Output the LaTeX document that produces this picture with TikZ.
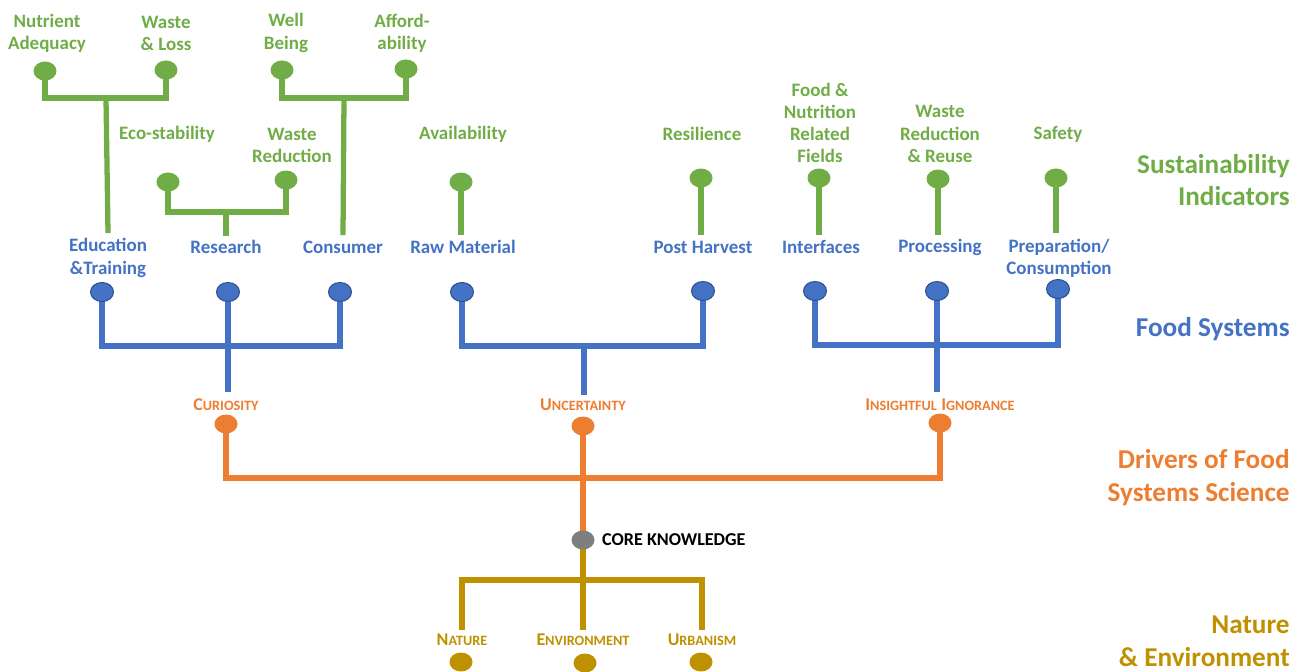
\documentclass[tikz,border=0pt]{standalone}
\usepackage{fontspec}
\setmainfont{Carlito}
\usetikzlibrary{shapes.geometric,positioning,backgrounds}

\definecolor{sgreen}{HTML}{70AD47}
\definecolor{sblue}{HTML}{4472C4}
\definecolor{sblueedge}{HTML}{2F528F}
\definecolor{sorange}{HTML}{ED7D31}
\definecolor{sgold}{HTML}{BF9000}
\definecolor{sgray}{HTML}{7F7F7F}

\newcommand{\fsc}[2]{{\fontsize{10.2}{11}\selectfont #1}{\fontsize{8.1}{9}\selectfont #2}}

\tikzset{
    dot/.style={ellipse, inner sep=0pt, minimum width=0.46cm, minimum height=0.38cm},
    gdot/.style={dot, fill=sgreen},
    bdot/.style={dot, fill=sblue, draw=sblueedge, line width=0.6pt},
    odot/.style={dot, fill=sorange},
    ydot/.style={dot, fill=sgold},
    kdot/.style={dot, fill=sgray},
    lbl/.style={font=\bfseries\fontsize{10.8}{12.6}\selectfont, align=center, inner sep=0pt},
    glbl/.style={lbl, text=sgreen},
    blbl/.style={lbl, text=sblue},
    olbl/.style={lbl, text=sorange},
    ylbl/.style={lbl, text=sgold},
    tier/.style={font=\bfseries\fontsize{15.5}{18.7}\selectfont, align=right, anchor=east, inner sep=0pt},
    branch/.style={line width=3pt, line join=miter},
}

\begin{document}
\begin{tikzpicture}[x=0.02cm, y=-0.02cm]
        \useasboundingbox (0,0) rectangle (1302,672);

        % tier titles
        \node[tier, text=sgreen] (sustier) at (1290,180) {Sustainability\\Indicators};
        \node[tier, text=sblue] (fstier) at (1290,329) {Food Systems};
        \node[tier, text=sorange] (drvtier) at (1290,478) {Drivers of Food\\Systems Science};
        \node[tier, text=sgold] (natier) at (1290,641) {Nature\\\& Environment};

        % sustainability indicators
        \node[glbl] (nuttxt) at (47,33) {Nutrient\\Adequacy};
        \node[glbl] (wsttxt) at (166,33) {Waste\\\& Loss};
        \node[glbl] (welltxt) at (286,33) {Well\\Being};
        \node[glbl] (afftxt) at (402,33) {Afford-\\ability};
        \node[glbl] (ecotxt) at (167,134) {Eco-stability};
        \node[glbl] (wredtxt) at (292,145) {Waste\\Reduction};
        \node[glbl] (avatxt) at (463,134) {Availability};
        \node[glbl] (restxt) at (702,134) {Resilience};
        \node[glbl] (fnrtxt) at (820,123) {Food \&\\Nutrition\\Related\\Fields};
        \node[glbl] (wrrtxt) at (940,134) {Waste\\Reduction\\\& Reuse};
        \node[glbl] (saftxt) at (1058,134) {Safety};

        \node[gdot] (nutd) at (45,71) {};
        \node[gdot] (wstd) at (166,70) {};
        \node[gdot] (welld) at (282,70) {};
        \node[gdot] (affd) at (406,69) {};
        \node[gdot] (ecod) at (168,182) {};
        \node[gdot] (wredd) at (286,180) {};
        \node[gdot] (avad) at (461,182) {};
        \node[gdot] (resid) at (701,178) {};
        \node[gdot] (fnrd) at (819,178) {};
        \node[gdot] (wrrd) at (938,179) {};
        \node[gdot] (safd) at (1056,178) {};

        % food systems
        \node[blbl] (edu) at (108,258) {Education\\\&Training};
        \node[blbl] (res) at (226,247) {Research};
        \node[blbl] (con) at (343,247) {Consumer};
        \node[blbl] (raw) at (463,247) {Raw Material};
        \node[blbl] (post) at (703,247) {Post Harvest};
        \node[blbl] (intf) at (821,247) {Interfaces};
        \node[blbl] (proc) at (940,247) {Processing};
        \node[blbl] (prep) at (1059,258) {Preparation/\\Consumption};

        \node[bdot] (edud) at (102,292) {};
        \node[bdot] (resd) at (228,292) {};
        \node[bdot] (cond) at (340,292) {};
        \node[bdot] (rawd) at (462,292) {};
        \node[bdot] (postd) at (703,291) {};
        \node[bdot] (intd) at (815,291) {};
        \node[bdot] (procd) at (937,291) {};
        \node[bdot] (prepd) at (1058,289) {};

        % drivers
        \node[olbl] (cur) at (226,405) {\fsc{C}{URIOSITY}};
        \node[olbl] (unc) at (583,405) {\fsc{U}{NCERTAINTY}};
        \node[olbl] (ign) at (940,405) {\fsc{I}{NSIGHTFUL} \fsc{I}{GNORANCE}};

        \node[odot] (curd) at (226,424) {};
        \node[odot] (uncd) at (583,426) {};
        \node[odot] (ignd) at (940,423) {};

        % core knowledge
        \node[kdot] (cored) at (583,540) {};
        \node[right=4pt of cored, inner sep=0pt, font=\bfseries\fontsize{10.3}{12}\selectfont] (coretxt) {CORE KNOWLEDGE};

        % nature & environment
        \node[ylbl] (nat) at (462,640) {\fsc{N}{ATURE}};
        \node[ylbl] (env) at (583,640) {\fsc{E}{NVIRONMENT}};
        \node[ylbl] (urb) at (702,640) {\fsc{U}{RBANISM}};

        \node[ydot] (natd) at (461,662) {};
        \node[ydot] (envd) at (585,663) {};
        \node[ydot] (urbd) at (701,662) {};

        % bars
        \coordinate (edubar) at (106,98);
        \coordinate (conbar) at (344,98);
        \coordinate (resbar) at (226,212);
        \coordinate (fsbar1) at (228,346);
        \coordinate (fsbar2) at (584,346);
        \coordinate (fsbar3) at (940,345);
        \coordinate (drvbar) at (583,478);
        \coordinate (natbar) at (583,580);

        \begin{scope}[on background layer]
        \begin{scope}[branch, draw=sgreen]
        \draw (nutd.center) |- (edubar) -| (wstd.center);
        \draw (edubar) -- ([yshift=3pt]edu.north);
        \draw (welld.center) |- (conbar) -| (affd.center);
        \draw (conbar) -- ([yshift=3pt]con.north);
        \draw (ecod.center) |- (resbar) -| (wredd.center);
        \draw (resbar) -- ([yshift=2pt]res.north);
        \draw (avad.center) -- ([yshift=3pt]avad.center |- raw.north);
        \draw (resid.center) -- ([yshift=3pt]resid.center |- post.north);
        \draw (fnrd.center) -- ([yshift=3pt]fnrd.center |- intf.north);
        \draw (wrrd.center) -- ([yshift=2pt]wrrd.center |- proc.north);
        \draw (safd.center) -- ([yshift=3pt]safd.center |- prep.north);
        \end{scope}
        \begin{scope}[branch, draw=sblue]
        \draw (edud.center) |- (fsbar1) -| (cond.center);
        \draw (resd.center) -- ([yshift=4pt]resd.center |- cur.north);
        \draw (rawd.center) |- (fsbar2) -| (postd.center);
        \draw (fsbar2) -- ([yshift=2pt]fsbar2 |- unc.north);
        \draw (intd.center) |- (fsbar3) -| (prepd.center);
        \draw (procd.center) -- ([yshift=4pt]procd.center |- ign.north);
        \end{scope}
        \begin{scope}[branch, draw=sorange]
        \draw (curd.center) |- (drvbar) -| (ignd.center);
        \draw (uncd.center) -- (cored.center);
        \end{scope}
        \begin{scope}[branch, draw=sgold]
        \draw (cored.center) -- (natbar);
        \draw ([yshift=2pt]nat.north) |- (natbar) -| ([yshift=2pt]urb.north);
        \draw (natbar) -- ([yshift=2pt]env.north);
        \end{scope}
        \end{scope}
\end{tikzpicture}
\end{document}
